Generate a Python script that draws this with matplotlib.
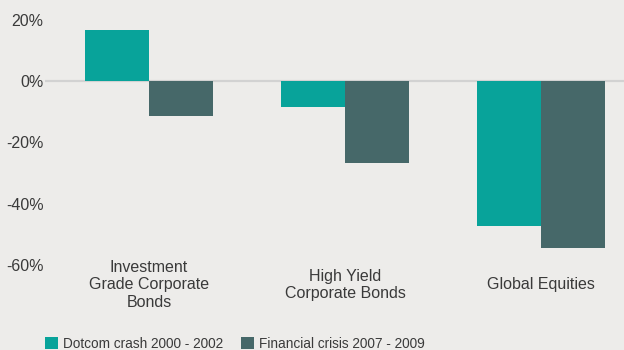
import matplotlib
matplotlib.use("Agg")
import matplotlib.pyplot as plt
import numpy as np

categories = ["Investment\nGrade Corporate\nBonds", "High Yield\nCorporate Bonds", "Global Equities"]
series_names = ["Dotcom crash 2000 - 2002", "Financial crisis 2007 - 2009"]
dotcom = [16.7, -8.3, -47.2]
financial = [-11.5, -26.6, -54.4]
yticks = [20, 0, -20, -40, -60]
ytick_labels = ["20%", "0%", "-20%", "-40%", "-60%"]

bg = "#edecea"
teal = "#08a39a"
slate = "#466869"
text_col = "#3a3a3a"

plt.rcParams["font.family"] = ["Liberation Sans", "DejaVu Sans"]

W, H = 624, 350
fig = plt.figure(figsize=(W / 100, H / 100), dpi=100, facecolor=bg)
ax = fig.add_axes([45 / W, 1 - 265 / H, 1 - 45 / W, (265 - 20) / H], facecolor=bg)

x = np.arange(len(categories))
bw = 0.3265
b1 = ax.bar(x - bw / 2, dotcom, bw, color=teal, zorder=2, label=series_names[0])
b2 = ax.bar(x + bw / 2, financial, bw, color=slate, zorder=2, label=series_names[1])
ax.axhline(0, color="#d2d2d2", lw=1.6, zorder=1)

ax.set_xlim(-0.5306, 2.4235)
ax.set_ylim(-60, 20)
ax.set_xticks([])
ax.set_yticks(yticks)
ax.set_yticklabels(ytick_labels)
ax.tick_params(axis="y", length=0, pad=1, labelsize=11.5, labelcolor=text_col)
for s in ax.spines.values():
    s.set_visible(False)

for xi, cat in zip(x, categories):
    ax.text(xi, -66.5, cat, ha="center", va="center", multialignment="center",
            fontsize=11.5, color=text_col, linespacing=1.2, clip_on=False)

fig.legend(handles=[b1, b2], labels=series_names, loc="lower left",
           bbox_to_anchor=(45 / W, -1 / H), ncol=2, frameon=False,
           fontsize=9.8, labelcolor=text_col, handlelength=0.95, handleheight=0.95,
           handletextpad=0.37, columnspacing=1.35, borderaxespad=0, borderpad=0)

fig.savefig("out.png", dpi=100, facecolor=bg)
